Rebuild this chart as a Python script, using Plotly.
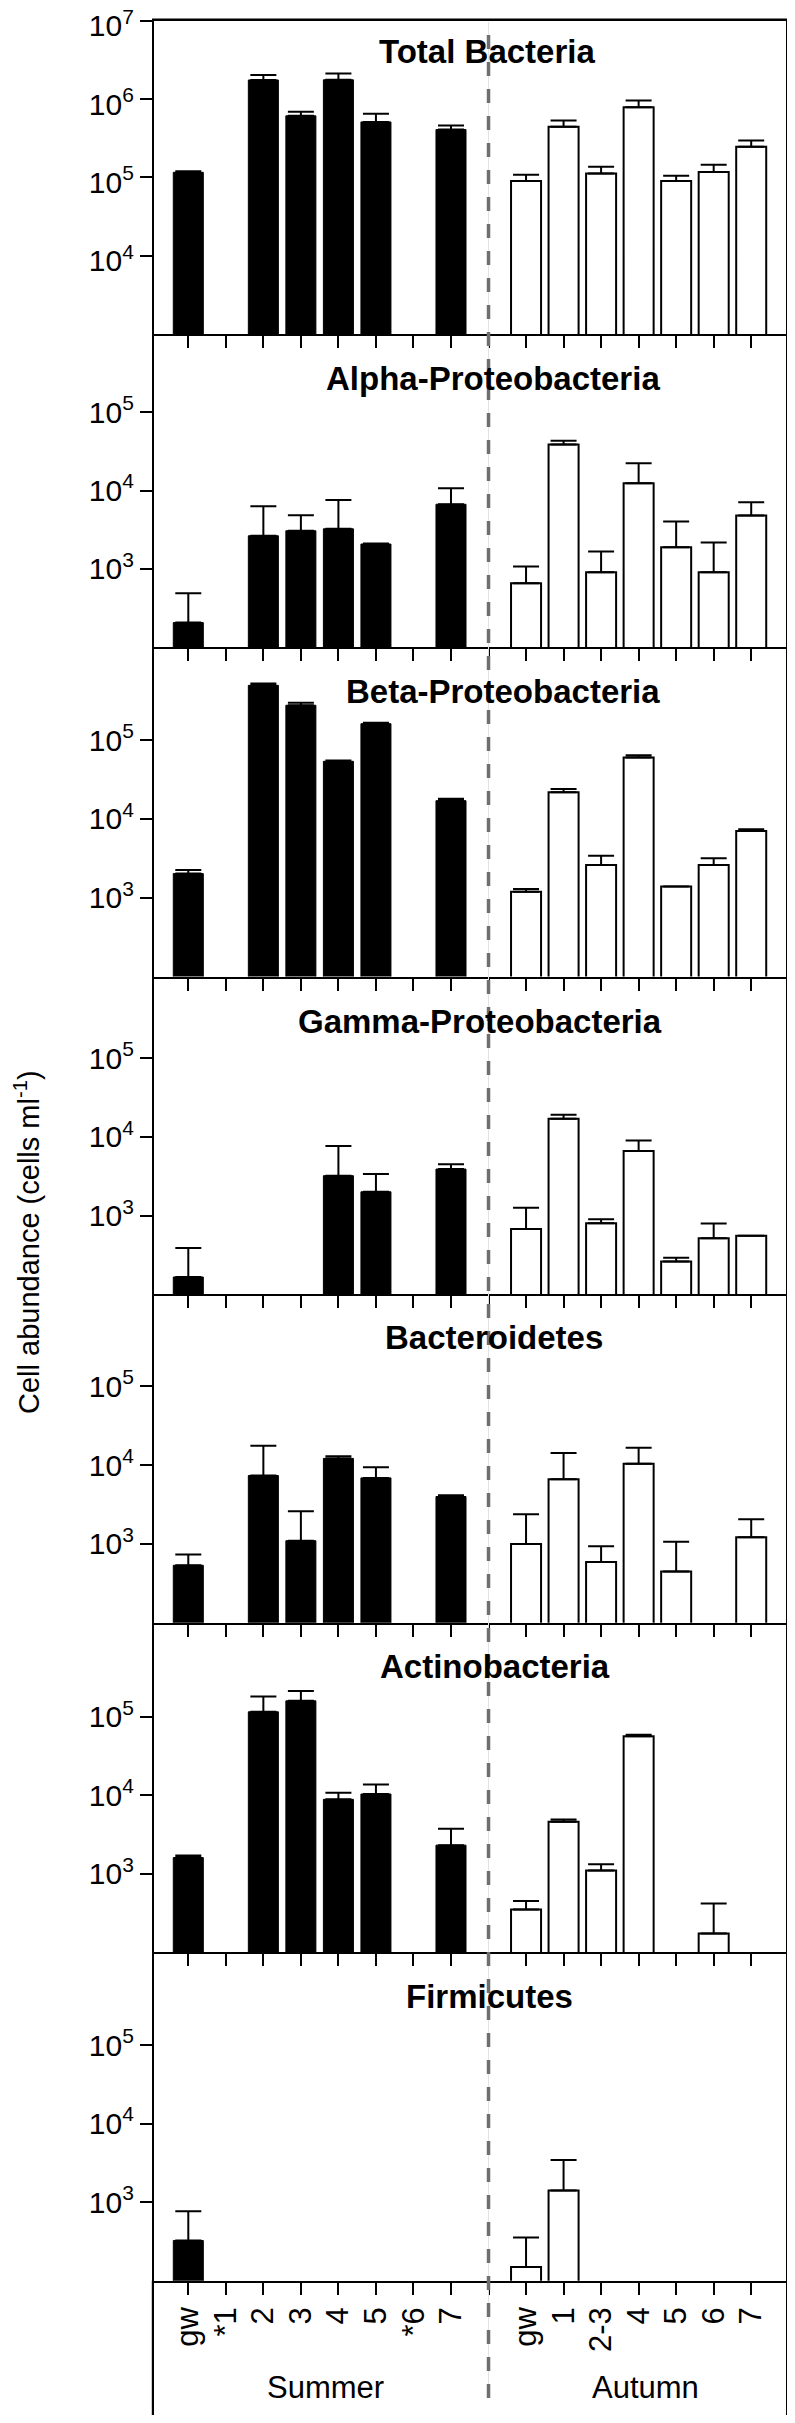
import plotly.graph_objects as go

W, H = 795, 2423

summer_sites = ["gw", "*1", "2", "3", "4", "5", "*6", "7"]
autumn_sites = ["gw", "1", "2-3", "4", "5", "6", "7"]
groups = ["Total Bacteria", "Alpha-Proteobacteria", "Beta-Proteobacteria",
          "Gamma-Proteobacteria", "Bacteroidetes", "Actinobacteria", "Firmicutes"]

# cell abundance (cells ml-1); None = no bar
total_summer = [1.16e5, None, 1.75e6, 6.1e5, 1.76e6, 5.1e5, None, 4.08e5]
total_summer_err = [4e3, None, 2.7e5, 8e4, 3.6e5, 1.4e5, None, 5.2e4]
total_autumn = [9.0e4, 4.41e5, 1.12e5, 7.84e5, 9.0e4, 1.17e5, 2.46e5]
total_autumn_err = [1.8e4, 8.9e4, 2.5e4, 1.76e5, 1.5e4, 2.8e4, 5.0e4]

alpha_summer = [205, None, 2640, 3060, 3240, 2070, None, 6670]
alpha_summer_err = [281, None, 3660, 1780, 4330, 30, None, 4030]
alpha_autumn = [651, 3.88e4, 901, 1.24e4, 1880, 901, 4800]
alpha_autumn_err = [419, 4500, 759, 9900, 2150, 1259, 2280]

beta_summer = [2020, None, 4.94e5, 2.76e5, 5.37e4, 1.61e5, None, 1.70e4]
beta_summer_err = [220, None, 2.6e4, 2.2e4, 1300, 5000, None, 1000]
beta_autumn = [1190, 2.17e4, 2590, 5.98e4, 1390, 2590, 7000]
beta_autumn_err = [100, 2200, 820, 4200, 0, 570, 360]

gamma_summer = [166, None, None, None, 3220, 2010, None, 3910]
gamma_summer_err = [223, None, None, None, 4440, 1370, None, 580]
gamma_autumn = [678, 1.70e4, 800, 6620, 261, 517, 553]
gamma_autumn_err = [582, 2100, 100, 2420, 30, 276, 0]

bact_summer = [536, None, 7400, 1100, 1.22e4, 6900, None, 4000]
bact_summer_err = [197, None, 10200, 1500, 800, 2540, None, 160]
bact_autumn = [1000, 6640, 590, 1.04e4, 446, None, 1220]
bact_autumn_err = [1380, 7660, 345, 6200, 624, None, 840]

actino_summer = [1610, None, 1.16e5, 1.6e5, 8890, 1.04e4, None, 2320]
actino_summer_err = [100, None, 6.6e4, 5.3e4, 1910, 3300, None, 1440]
actino_autumn = [350, 4620, 1100, 5.67e4, None, 174, None]
actino_autumn_err = [102, 310, 220, 2300, None, 244, None]

firm_summer = [325, None, None, None, None, None, None, None]
firm_summer_err = [443, None, None, None, None, None, None, None]
firm_autumn = [149, 1410, None, None, None, None, None]
firm_autumn_err = [206, 2020, None, None, None, None, None]

summer_vals = [total_summer, alpha_summer, beta_summer, gamma_summer, bact_summer, actino_summer, firm_summer]
summer_errs = [total_summer_err, alpha_summer_err, beta_summer_err, gamma_summer_err, bact_summer_err, actino_summer_err, firm_summer_err]
autumn_vals = [total_autumn, alpha_autumn, beta_autumn, gamma_autumn, bact_autumn, actino_autumn, firm_autumn]
autumn_errs = [total_autumn_err, alpha_autumn_err, beta_autumn_err, gamma_autumn_err, bact_autumn_err, actino_autumn_err, firm_autumn_err]

# layout geometry (page pixels)
tops = [20.7, 334, 647, 976.5, 1294.3, 1622.7, 1952.3]
bottoms = [334, 647, 976.5, 1294.3, 1622.7, 1952.3, 2280.7]
yranges = [(3, 7), (2, 6), (2, 6.18), (2, 6.04), (2, 6.17), (2, 6.2), (2, 6.18)]
title_x = [487, 492.5, 503, 480, 494, 494.5, 489]
title_base = [42.6, 56, 56, 56, 55, 55, 56]
x_left, x_right = 154, 786
PAGE_OFFSET = 8  # default body margin of the html page

FONT = "Liberation Sans, Arial, sans-serif"

def fx(p):
    return (p - PAGE_OFFSET) / W

def fy(p):
    return 1 - (p - PAGE_OFFSET) / H

summer_x = list(range(len(summer_sites)))
autumn_x = [len(summer_sites) + 1 + i for i in range(len(autumn_sites))]
all_ticks = list(range(len(summer_sites) + 1 + len(autumn_sites)))
all_labels = summer_sites + [" "] + autumn_sites

fig = go.Figure()
layout = dict(
    width=W, height=H, margin=dict(l=0, r=0, t=0, b=0, autoexpand=False),
    paper_bgcolor="white", plot_bgcolor="white",
    showlegend=False, barmode="overlay",
    font=dict(family=FONT, color="black"),
)
annotations = []
shapes = []

for i in range(7):
    n = i + 1
    xa = "x" if n == 1 else f"x{n}"
    ya = "y" if n == 1 else f"y{n}"
    fig.add_trace(go.Bar(
        x=summer_x, y=summer_vals[i], width=0.8,
        marker=dict(color="black", line=dict(color="black", width=1)),
        error_y=dict(type="data", symmetric=False, array=summer_errs[i],
                     arrayminus=[0] * len(summer_x), color="black", thickness=2, width=13),
        xaxis=xa, yaxis=ya, hoverinfo="skip"))
    fig.add_trace(go.Bar(
        x=autumn_x, y=autumn_vals[i], width=0.8,
        marker=dict(color="white", line=dict(color="black", width=2)),
        error_y=dict(type="data", symmetric=False, array=autumn_errs[i],
                     arrayminus=[0] * len(autumn_x), color="black", thickness=2, width=13),
        xaxis=xa, yaxis=ya, hoverinfo="skip"))

    lo, hi = yranges[i]
    decades = [4, 5, 6, 7] if i == 0 else [3, 4, 5]
    xkey = "xaxis" if n == 1 else f"xaxis{n}"
    ykey = "yaxis" if n == 1 else f"yaxis{n}"
    layout[xkey] = dict(
        domain=[fx(x_left), fx(x_right)], anchor=ya, automargin=False,
        range=[-0.914, 15.927], showgrid=False, zeroline=False,
        showline=True, linecolor="black", linewidth=2.2, mirror=(n == 1),
        ticks="outside", ticklen=12, tickwidth=2, tickcolor="black",
        tickvals=all_ticks, ticktext=all_labels, ticklabeloverflow="allow",
        showticklabels=(n == 7), tickangle=-90,
        tickfont=dict(size=31, family=FONT, color="black"),
    )
    layout[ykey] = dict(
        domain=[fy(bottoms[i]), fy(tops[i])], anchor=xa, automargin=False,
        type="log", range=[lo, hi], showgrid=False, zeroline=False,
        showline=True, linecolor="black", linewidth=2.2, mirror=True,
        ticks="outside", ticklen=12, tickwidth=2, tickcolor="black",
        tickvals=[10 ** d for d in decades], ticklabeloverflow="allow",
        ticktext=[f"10<sup>{d}</sup>" for d in decades],
        ticklabelshift=(5 if n == 1 else 0),
        tickfont=dict(size=30, family=FONT, color="black"),
    )
    annotations.append(dict(
        text=f"<b>{groups[i]}</b>", x=fx(title_x[i]), y=fy(tops[i] + title_base[i] - 11.5),
        xref="paper", yref="paper", xanchor="center", yanchor="middle",
        showarrow=False, font=dict(size=33, family=FONT, color="black")))

# season labels
annotations.append(dict(text="Summer", x=fx(325), y=fy(2387), xref="paper", yref="paper",
                        showarrow=False, xanchor="center", yanchor="middle",
                        font=dict(size=31, family=FONT, color="black")))
annotations.append(dict(text="Autumn", x=fx(645), y=fy(2387), xref="paper", yref="paper",
                        showarrow=False, xanchor="center", yanchor="middle",
                        font=dict(size=31, family=FONT, color="black")))
# y axis title
annotations.append(dict(text="Cell abundance (cells ml<sup>-1</sup>)", x=fx(27), y=fy(1242),
                        xref="paper", yref="paper", showarrow=False, textangle=-90,
                        xanchor="center", yanchor="middle",
                        font=dict(size=29, family=FONT, color="black")))

# top frame line of the first panel
shapes.append(dict(type="line", xref="paper", yref="paper", x0=fx(x_left - 2), x1=fx(x_right + 2),
                   y0=fy(tops[0] - 1), y1=fy(tops[0] - 1), line=dict(color="black", width=2.2)))
# season divider
shapes.append(dict(type="line", xref="x7", yref="paper", x0=8, x1=8,
                   y0=fy(2398), y1=fy(22), line=dict(color="#e2e2e2", width=1)))
shapes.append(dict(type="line", xref="x7", yref="paper", x0=8, x1=8,
                   y0=fy(2398), y1=fy(24), line=dict(color="#6f6f6f", width=3.5, dash="14px,13px")))
# frame extension below the last panel
for xp in (x_left - 1.1, x_right + 1.1):
    shapes.append(dict(type="line", xref="paper", yref="paper", x0=fx(xp), x1=fx(xp),
                       y0=fy(2415), y1=fy(2280.7), line=dict(color="black", width=2.2)))

layout["annotations"] = annotations
layout["shapes"] = shapes
fig.update_layout(**layout)
fig.write_html("out.html")
